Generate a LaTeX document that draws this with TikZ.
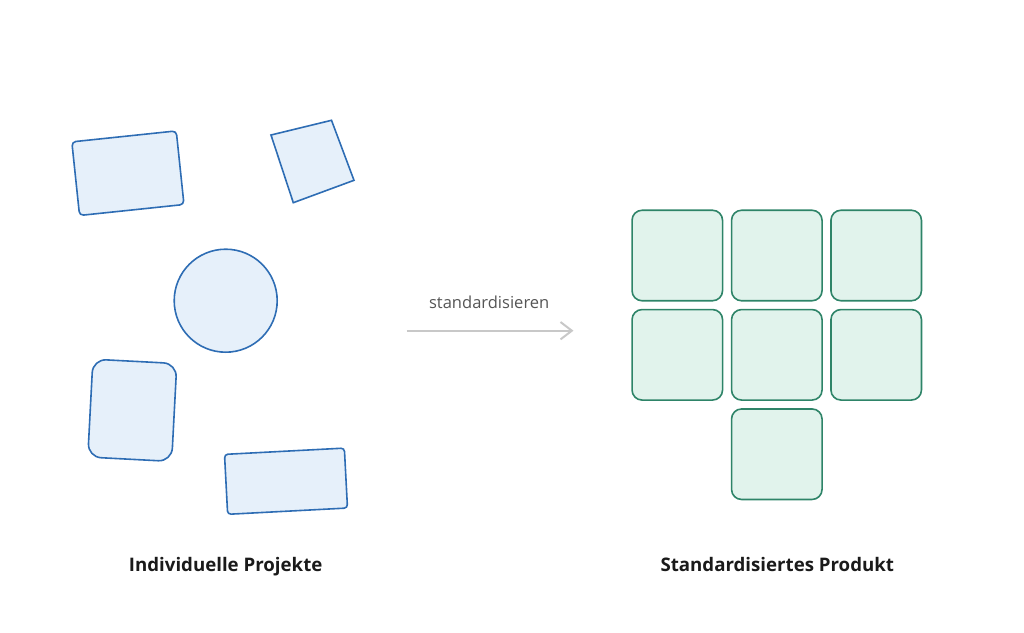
\documentclass[tikz,border=0pt]{standalone}
\usepackage{fontspec}
\setmainfont{Open Sans}
\usetikzlibrary{arrows.meta}
\definecolor{bstroke}{HTML}{2E6DB4}
\definecolor{bfill}{HTML}{E6F0FA}
\definecolor{gstroke}{HTML}{2E8468}
\definecolor{gfill}{HTML}{E1F3EC}
\definecolor{arrgray}{HTML}{C8C8C8}
\definecolor{txtgray}{HTML}{555555}
\definecolor{txtdark}{HTML}{1A1A1A}
\tikzset{
  blueshape/.style={draw=bstroke, fill=bfill, line width=1.2pt, inner sep=0pt},
  greenbox/.style={draw=gstroke, fill=gfill, line width=1.2pt, inner sep=0pt,
    minimum width=90.5*0.75pt, minimum height=90.5*0.75pt, rounded corners=7.5pt},
  caption/.style={font=\fontsize{14}{17}\selectfont\bfseries, text=txtdark, inner sep=0pt},
  arrlabel/.style={font=\fontsize{12.4}{14}\selectfont, text=txtgray, inner sep=0pt},
  flowarrow/.style={draw=arrgray, line width=1.5pt,
    -{Straight Barb[length=8.5pt, width=13pt, line width=1.5pt]}}
}
\begin{document}
\begin{tikzpicture}[x=0.75pt,y=-0.75pt]
\useasboundingbox (0,0) rectangle (1024,632);
% left shapes
\node[blueshape, minimum width=105*0.75pt, minimum height=74*0.75pt, rounded corners=3pt, rotate=6] (r1) at (127.9,173.2) {};
\draw[blueshape] (271,135) -- (331.5,120.3) -- (354,180.3) -- (293.3,202.7) -- cycle;
\node[blueshape, circle, minimum size=103*0.75pt] (c1) at (225.7,300.7) {};
\node[blueshape, minimum width=84*0.75pt, minimum height=98*0.75pt, rounded corners=10pt, rotate=-3] (r4) at (132.3,410.3) {};
\node[blueshape, minimum width=120*0.75pt, minimum height=60*0.75pt, rounded corners=2.5pt, rotate=3] (r5) at (286,481.2) {};
% right grid
\node[greenbox] (g11) at (677.3,255.5) {};
\node[greenbox] (g12) at (776.8,255.5) {};
\node[greenbox] (g13) at (876.2,255.5) {};
\node[greenbox] (g21) at (677.3,354.8) {};
\node[greenbox] (g22) at (776.8,354.8) {};
\node[greenbox] (g23) at (876.2,354.8) {};
\node[greenbox] (g32) at (776.8,454.2) {};
% arrow
\coordinate (aS) at (406.7,330.7);
\coordinate (aE) at (573.5,330.7);
\draw[flowarrow] (aS) -- (aE);
\node[arrlabel, anchor=base] (lab) at (489.2,308.3) {standardisieren};
% captions
\node[caption, anchor=base] (capL) at (225.7,571.7) {Individuelle Projekte};
\node[caption, anchor=base] (capR) at (777.3,571.7) {Standardisiertes Produkt};
\end{tikzpicture}
\end{document}
